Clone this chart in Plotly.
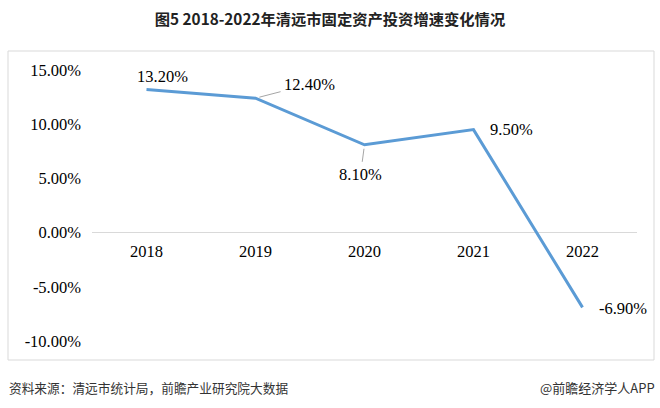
import plotly.graph_objects as go

years = ["2018", "2019", "2020", "2021", "2022"]
growth = [13.2, 12.4, 8.1, 9.5, -6.9]
y_ticks = [-10, -5, 0, 5, 10, 15]
y_ticktext = ["-10.00%", "-5.00%", "0.00%", "5.00%", "10.00%", "15.00%"]
title_text = "图5 2018-2022年清远市固定资产投资增速变化情况"
source_text = "资料来源：清远市统计局，前瞻产业研究院大数据"
brand_text = "@前瞻经济学人APP"

# label offsets (pixels)
label_pos = [
    dict(showarrow=False, xshift=16, yshift=13),
    dict(showarrow=True, ax=54, ay=-14),
    dict(showarrow=True, ax=-4, ay=30),
    dict(showarrow=False, xshift=38, yshift=0),
    dict(showarrow=False, xshift=40, yshift=-1),
]

W, H = 660, 408
L, R, T, B = 92, 23, 70, 67
pw, ph = W - L - R, H - T - B


def px(x):
    return (x - L) / pw


def py(y):
    return (H - B - y) / ph


serif = "Liberation Serif, Times New Roman, serif"
cjk = "Noto Sans CJK SC, sans-serif"
fs = 16.5

xi = list(range(len(years)))

fig = go.Figure()
fig.add_trace(go.Scatter(
    x=xi, y=growth, mode="lines",
    line=dict(color="#5B9BD5", width=3),
    hoverinfo="skip", showlegend=False,
))

annotations = []
for i, v, pos in zip(xi, growth, label_pos):
    a = dict(x=i, y=v, xref="x", yref="y", text=f"{v:.2f}%",
             font=dict(family=serif, size=fs, color="#000000"))
    if pos["showarrow"]:
        a.update(showarrow=True, ax=pos["ax"], ay=pos["ay"], axref="pixel", ayref="pixel",
                 arrowhead=0, arrowwidth=1, arrowcolor="#A6A6A6", standoff=4, startstandoff=2)
    else:
        a.update(showarrow=False, xshift=pos["xshift"], yshift=pos["yshift"])
    annotations.append(a)

annotations.append(dict(
    x=px(7), y=py(387), xref="paper", yref="paper", xanchor="left", yanchor="middle",
    text=source_text, showarrow=False, font=dict(family=cjk, size=12.7, color="#333333")))
annotations.append(dict(
    x=px(657), y=py(387), xref="paper", yref="paper", xanchor="right", yanchor="middle",
    text=brand_text, showarrow=False, font=dict(family=cjk, size=13, color="#333333")))

fig.update_layout(
    width=W, height=H,
    margin=dict(l=L, r=R, t=T, b=B, pad=0),
    paper_bgcolor="white", plot_bgcolor="white",
    title=dict(text=f"<b>{title_text}</b>", x=0.5, xref="container", xanchor="center",
               y=1 - 20 / H, yref="container", yanchor="middle",
               font=dict(family=cjk, size=15.3, color="#222222")),
    annotations=annotations,
    shapes=[dict(type="rect", xref="paper", yref="paper",
                 x0=px(8), x1=px(654), y0=py(360), y1=py(51),
                 line=dict(color="#D9D9D9", width=1), layer="below")],
    xaxis=dict(
        range=[-0.5, len(years) - 0.5], tickvals=xi, ticktext=years,
        anchor="free", position=10 / 25,
        showgrid=False, showline=False, zeroline=False, ticks="",
        tickfont=dict(family=serif, size=fs, color="#000000"),
        ticklabelstandoff=7, fixedrange=True,
    ),
    yaxis=dict(
        range=[-10, 15], tickvals=y_ticks, ticktext=y_ticktext,
        showgrid=False, showline=False, zeroline=True,
        zerolinecolor="#D9D9D9", zerolinewidth=1, ticks="",
        tickfont=dict(family=serif, size=fs, color="#000000"),
        ticklabelstandoff=10, fixedrange=True,
    ),
)

fig.write_html("out.html")
